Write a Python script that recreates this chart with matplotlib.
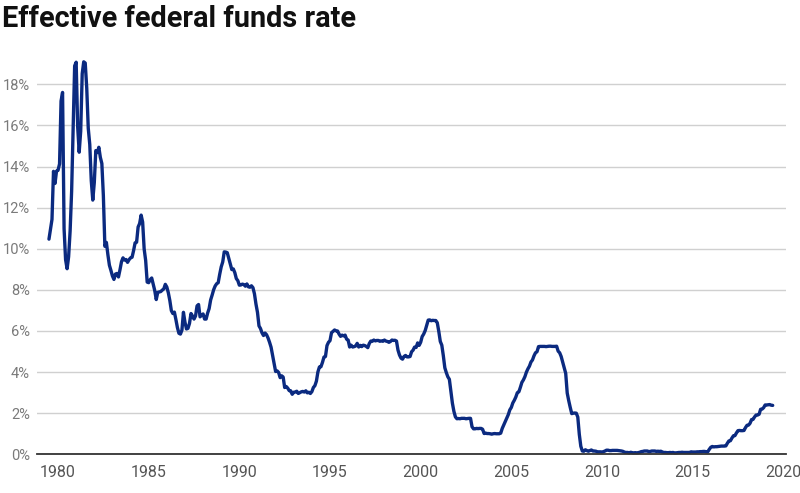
import matplotlib
matplotlib.use("Agg")
import matplotlib.pyplot as plt
import matplotlib.ticker as mticker
import pandas as pd

plt.rcParams['font.family'] = ['Roboto', 'DejaVu Sans']

# Monthly effective federal funds rate (%), July 1979 - June 2019
start_month = "1979-07-01"
rates_1979_1989 = [
    10.47, 10.94, 11.43, 13.77, 13.18, 13.78,
    13.82, 14.13, 17.19, 17.61, 10.98, 9.47, 9.03, 9.61, 10.87, 12.81, 15.85, 18.90,
    19.08, 15.93, 14.70, 15.72, 18.52, 19.10, 19.04, 17.82, 15.87, 15.08, 13.31, 12.37,
    13.22, 14.78, 14.68, 14.94, 14.45, 14.15, 12.59, 10.12, 10.31, 9.71, 9.20, 8.95,
    8.68, 8.51, 8.77, 8.80, 8.63, 8.98, 9.37, 9.56, 9.45, 9.48, 9.34, 9.47,
    9.56, 9.59, 9.91, 10.29, 10.32, 11.06, 11.23, 11.64, 11.30, 9.99, 9.43, 8.38,
    8.35, 8.50, 8.58, 8.27, 7.97, 7.53, 7.88, 7.90, 7.92, 7.99, 8.05, 8.27,
    8.14, 7.86, 7.48, 6.99, 6.85, 6.92, 6.56, 6.17, 5.89, 5.85, 6.04, 6.91,
    6.43, 6.10, 6.13, 6.37, 6.85, 6.73, 6.58, 6.73, 7.22, 7.29, 6.69, 6.77,
    6.83, 6.58, 6.58, 6.87, 7.09, 7.51, 7.75, 8.01, 8.19, 8.30, 8.35, 8.76,
    9.12, 9.36, 9.85, 9.84, 9.81, 9.53, 9.24, 8.99, 9.02, 8.84, 8.55, 8.45,
]
rates_1990_1999 = [
    8.23, 8.24, 8.28, 8.26, 8.18, 8.29, 8.15, 8.13, 8.20, 8.11, 7.81, 7.31,
    6.91, 6.25, 6.12, 5.91, 5.78, 5.90, 5.82, 5.66, 5.45, 5.21, 4.81, 4.43,
    4.03, 4.06, 3.98, 3.73, 3.82, 3.76, 3.25, 3.30, 3.22, 3.10, 3.09, 2.92,
    3.02, 3.03, 3.07, 2.96, 3.00, 3.04, 3.06, 3.03, 3.09, 2.99, 3.02, 2.96,
    3.05, 3.25, 3.34, 3.56, 4.01, 4.25, 4.26, 4.47, 4.73, 4.76, 5.29, 5.45,
    5.53, 5.92, 5.98, 6.05, 6.01, 6.00, 5.85, 5.74, 5.80, 5.76, 5.80, 5.60,
    5.56, 5.22, 5.31, 5.22, 5.24, 5.27, 5.40, 5.22, 5.30, 5.24, 5.31, 5.29,
    5.25, 5.19, 5.39, 5.51, 5.50, 5.56, 5.52, 5.54, 5.54, 5.50, 5.52, 5.50,
    5.56, 5.51, 5.49, 5.45, 5.49, 5.56, 5.54, 5.55, 5.51, 5.07, 4.83, 4.68,
    4.63, 4.76, 4.81, 4.74, 4.74, 4.76, 4.99, 5.07, 5.22, 5.20, 5.42, 5.30,
]
rates_2000_2009 = [
    5.45, 5.73, 5.85, 6.02, 6.27, 6.53, 6.54, 6.50, 6.52, 6.51, 6.51, 6.40,
    5.98, 5.49, 5.31, 4.80, 4.21, 3.97, 3.77, 3.65, 3.07, 2.49, 2.09, 1.82,
    1.73, 1.74, 1.73, 1.75, 1.75, 1.75, 1.73, 1.74, 1.75, 1.75, 1.34, 1.24,
    1.24, 1.26, 1.25, 1.26, 1.26, 1.22, 1.01, 1.03, 1.01, 1.01, 1.00, 0.98,
    1.00, 1.01, 1.00, 1.00, 1.00, 1.03, 1.26, 1.43, 1.61, 1.76, 1.93, 2.16,
    2.28, 2.50, 2.63, 2.79, 3.00, 3.04, 3.26, 3.50, 3.62, 3.78, 4.00, 4.16,
    4.29, 4.49, 4.59, 4.79, 4.94, 4.99, 5.24, 5.25, 5.25, 5.25, 5.25, 5.24,
    5.25, 5.26, 5.26, 5.25, 5.25, 5.25, 5.26, 5.02, 4.94, 4.76, 4.49, 4.24,
    3.94, 2.98, 2.61, 2.28, 1.98, 2.00, 2.01, 2.00, 1.81, 0.97, 0.39, 0.16,
    0.15, 0.22, 0.18, 0.15, 0.18, 0.21, 0.16, 0.16, 0.15, 0.12, 0.12, 0.12,
]
rates_2010_2019 = [
    0.11, 0.13, 0.16, 0.20, 0.20, 0.18, 0.18, 0.19, 0.19, 0.19, 0.19, 0.18,
    0.17, 0.16, 0.14, 0.10, 0.09, 0.09, 0.07, 0.10, 0.08, 0.07, 0.08, 0.07,
    0.08, 0.10, 0.13, 0.14, 0.16, 0.16, 0.16, 0.13, 0.14, 0.16, 0.16, 0.16,
    0.14, 0.15, 0.14, 0.15, 0.11, 0.09, 0.09, 0.08, 0.08, 0.09, 0.08, 0.09,
    0.07, 0.07, 0.08, 0.09, 0.09, 0.10, 0.09, 0.09, 0.09, 0.09, 0.09, 0.12,
    0.11, 0.11, 0.11, 0.12, 0.12, 0.13, 0.13, 0.14, 0.14, 0.12, 0.12, 0.24,
    0.34, 0.38, 0.36, 0.37, 0.37, 0.38, 0.39, 0.40, 0.40, 0.40, 0.41, 0.54,
    0.65, 0.66, 0.79, 0.90, 0.91, 1.04, 1.15, 1.16, 1.15, 1.15, 1.16, 1.30,
    1.41, 1.42, 1.51, 1.69, 1.70, 1.82, 1.91, 1.91, 1.95, 2.19, 2.20, 2.27,
    2.40, 2.40, 2.41, 2.42, 2.39, 2.38,
]
x_ticks = [1980, 1985, 1990, 1995, 2000, 2005, 2010, 2015, 2020]
y_ticks = [0, 2, 4, 6, 8, 10, 12, 14, 16, 18]
title = "Effective federal funds rate"

rates = rates_1979_1989 + rates_1990_1999 + rates_2000_2009 + rates_2010_2019
dates = pd.date_range(start_month, periods=len(rates), freq="MS")
years = dates.year + (dates.month - 1) / 12.0

W, H = 800, 493
fig = plt.figure(figsize=(W / 100, H / 100), dpi=100)
ax = fig.add_axes([37 / W, (H - 454.3) / H, (786 - 37) / W, (454.3 - 55) / H])

ax.plot(years, rates, color="#0b2a80", lw=2.4, solid_joinstyle="round",
        solid_capstyle="round", zorder=3, clip_on=False)

ax.set_xlim(1978.84, 2020.15)
ax.set_ylim(0, (454.3 - 55) / 20.55)
ax.set_xticks(x_ticks)
ax.set_yticks(y_ticks)
ax.yaxis.set_major_formatter(mticker.FuncFormatter(lambda v, p: f"{int(v)}%"))
ax.grid(axis="y", color="#d0d0d0", lw=1)
ax.set_axisbelow(True)
for s in ["top", "right", "left"]:
    ax.spines[s].set_visible(False)
ax.spines["bottom"].set_color("#333333")
ax.spines["bottom"].set_linewidth(1.3)
ax.spines["bottom"].set_zorder(4)
ax.tick_params(axis="y", length=0, pad=5, labelsize=10.5, labelcolor="#7a7a7a")
ax.tick_params(axis="x", length=0, pad=8, labelsize=11.5, labelcolor="#555555")

fig.text(2 / W, 1 - 27 / H, title, fontsize=20.8, fontweight="bold",
         color="#111111", va="baseline", ha="left")

fig.savefig("out.png", dpi=100)
